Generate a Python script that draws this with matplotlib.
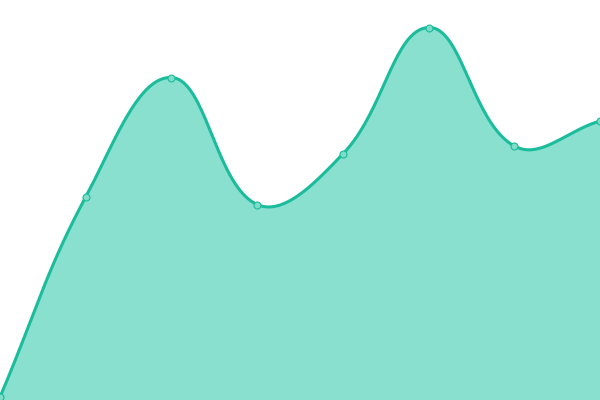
import numpy as np
import matplotlib
matplotlib.use("Agg")
import matplotlib.pyplot as plt

# values (y axis 0..400, no ticks shown)
labels = ["A", "B", "C", "D", "E", "F", "G", "H"]
values = [3, 203, 322.5, 195.5, 246, 372.5, 254, 279]

W, H = 600, 400
tension = 0.4
line_color = "#1abc9c"
fill_color = "#89e0cf"


def spline_path(px, py, t=tension, steps=40):
    # chart.js style cardinal spline, computed in pixel space
    n = len(px)
    cps = []
    for i in range(n):
        p0 = (px[max(i - 1, 0)], py[max(i - 1, 0)])
        p1 = (px[i], py[i])
        p2 = (px[min(i + 1, n - 1)], py[min(i + 1, n - 1)])
        d01 = np.hypot(p1[0] - p0[0], p1[1] - p0[1])
        d12 = np.hypot(p2[0] - p1[0], p2[1] - p1[1])
        s01 = d01 / (d01 + d12) if d01 + d12 else 0
        s12 = d12 / (d01 + d12) if d01 + d12 else 0
        fa, fb = t * s01, t * s12
        prev_cp = (p1[0] - fa * (p2[0] - p0[0]), p1[1] - fa * (p2[1] - p0[1]))
        next_cp = (p1[0] + fb * (p2[0] - p0[0]), p1[1] + fb * (p2[1] - p0[1]))
        cps.append((prev_cp, next_cp))
    xs, ys = [], []
    u = np.linspace(0, 1, steps)
    for i in range(n - 1):
        a = np.array([px[i], py[i]])
        b = np.array(cps[i][1])
        c = np.array(cps[i + 1][0])
        d = np.array([px[i + 1], py[i + 1]])
        seg = ((1 - u)[:, None] ** 3 * a + 3 * ((1 - u) ** 2 * u)[:, None] * b
               + 3 * ((1 - u) * u ** 2)[:, None] * c + (u ** 3)[:, None] * d)
        xs.extend(seg[:, 0])
        ys.extend(seg[:, 1])
    return np.array(xs), np.array(ys)


x = np.arange(len(values))
px = x * W / (len(values) - 1)
py = np.array(values, dtype=float)
sx, sy = spline_path(px, py)
cx = sx * (len(values) - 1) / W

fig = plt.figure(figsize=(6, 4), dpi=100)
ax = fig.add_axes([0, 0, 1, 1])
ax.fill_between(cx, sy, 0, color=fill_color, linewidth=0)
ax.plot(cx, sy, color=line_color, linewidth=2.2, solid_capstyle="round")
ax.plot(x, values, "o", markersize=5, markerfacecolor="#7fdcc9",
        markeredgecolor=line_color, markeredgewidth=0.8)
ax.set_xlim(0, len(values) - 1)
ax.set_ylim(0, H)
ax.axis("off")
fig.savefig("out.png", dpi=100)
